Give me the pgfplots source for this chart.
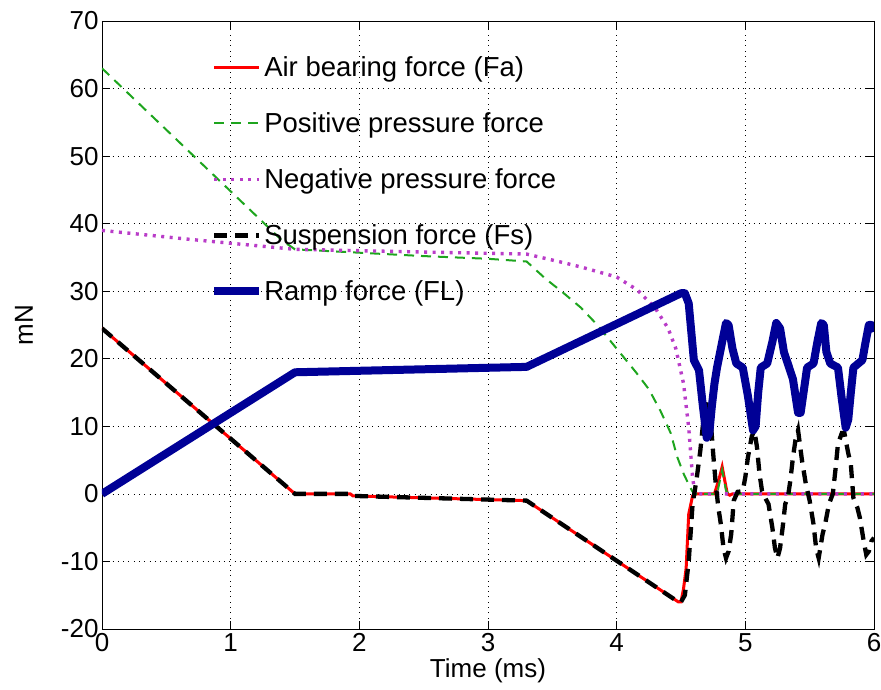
\documentclass[border=0pt]{standalone}
\usepackage{pgfplots}
\pgfplotsset{compat=1.18}
\usepackage{fontspec}
\setmainfont{Liberation Sans}
\definecolor{cgreen}{RGB}{30,165,30}
\definecolor{cmag}{RGB}{185,60,200}
\definecolor{cblue}{RGB}{0,0,150}
\begin{document}
\begin{tikzpicture}
\useasboundingbox (-102pt,-61pt) rectangle (779pt,629pt);
\begin{axis}[
  at={(0,0)}, anchor=south west,
  width=772pt, height=608pt, scale only axis,
  xmin=0, xmax=6, ymin=-20, ymax=70,
  xtick={0,1,2,3,4,5,6},
  ytick={-20,-10,0,10,20,30,40,50,60,70},
  grid=major,
  major grid style={black, line width=0.7pt, dash pattern=on 0.7pt off 4.6pt},
  axis line style={black, line width=0.9pt},
  tick align=inside, major tick length=8pt,
  tick style={black, line width=0.9pt},
  /pgf/number format/assume math mode=true,
  ticklabel style={font=\fontsize{26}{28}\selectfont},
  xticklabel style={yshift=-1pt},
  label style={font=\fontsize{26}{28}\selectfont},
  xlabel={Time (ms)}, ylabel={mN},
  xlabel style={at={(axis description cs:0.5,-0.068)}, anchor=center},
  ylabel style={at={(axis description cs:-0.101,0.5)}, anchor=center},
  legend style={at={(rel axis cs:0.14,0.943)}, anchor=north west, draw=none, fill=none,
    font=\fontsize{27.5}{29}\selectfont, row sep=32.5pt, inner sep=0pt,
    nodes={inner sep=1pt}},
  legend cell align=left,
  legend image code/.code={\draw[#1] plot coordinates {(0pt,0pt) (45pt,0pt)};},
]
\addplot[red, line width=3pt] coordinates {
(0,24.5) (1.5,0) (1.93,0) (1.95,-0.3) (3.3,-1) (4.48,-16) (4.5,-16) (4.52,-14) (4.54,-11) (4.56,-3) (4.59,-0.3) (4.62,0) (4.76,0) (4.8,2.5) (4.82,4) (4.84,2) (4.86,0) (4.88,-0.2) (4.9,0) (6,0)};
\addlegendentry{Air bearing force (Fa)}
\addplot[cgreen, line width=2pt, dash pattern=on 10pt off 7pt] coordinates {
(0,63) (1.4,37.5) (1.5,36.2) (2,35.7) (2.5,35.2) (3,34.8) (3.3,34.4) (3.45,31.8) (3.57,30) (3.72,27.6) (3.85,25) (4.0,21.5) (4.15,18) (4.25,15.5) (4.34,12.3) (4.42,9) (4.47,5.5) (4.52,3) (4.57,1) (4.6,0) (4.78,0) (4.82,3.5) (4.85,0.5) (4.87,0) (6,0)};
\addlegendentry{Positive pressure force}
\addplot[cmag, line width=3.4pt, dash pattern=on 3pt off 5.5pt] coordinates {
(0,39) (0.67,37.7) (1.5,36.2) (2.5,35.8) (3.3,35.5) (3.57,34.3) (3.72,33.6) (4.0,32.1) (4.16,30.2) (4.3,27.5) (4.4,24.5) (4.46,21.5) (4.52,16.3) (4.56,9.8) (4.59,2.4) (4.61,0) (6,0)};
\addlegendentry{Negative pressure force}
\addplot[black, line width=4.3pt, dash pattern=on 13pt off 8pt] coordinates {
(0,24.5) (1.5,0) (1.93,0) (1.95,-0.3) (3.3,-1) (4.48,-16) (4.5,-16) (4.53,-15) (4.56,-10) (4.59,-1.5) (4.62,2) (4.65,6.4) (4.68,12) (4.71,13.8) (4.73,11) (4.75,6) (4.77,1.5) (4.79,-2) (4.81,-4.5) (4.83,-8) (4.85,-9.5) (4.87,-8.5) (4.89,-6) (4.91,-1) (4.94,0.3) (4.98,0.4) (5.0,2.5) (5.02,5.4) (5.05,8.5) (5.07,9.4) (5.09,7) (5.11,3) (5.13,0.4) (5.16,-0.8) (5.18,-1.5) (5.21,-5) (5.23,-8) (5.25,-9.5) (5.27,-8) (5.29,-5) (5.31,-1.5) (5.33,-0.6) (5.35,2) (5.37,5.4) (5.39,8) (5.41,9.4) (5.44,5) (5.47,1.5) (5.5,-1) (5.53,-4.5) (5.55,-8) (5.57,-9.5) (5.6,-6) (5.62,-4.5) (5.65,-1.5) (5.68,0) (5.7,3.5) (5.72,7.4) (5.75,9) (5.77,9) (5.8,6) (5.82,4.4) (5.84,-0.6) (5.87,-2) (5.89,-3.5) (5.92,-7) (5.94,-9) (5.96,-8.5) (5.98,-7) (6,-6.5)};
\addlegendentry{Suspension force (Fs)}
\addplot[cblue, line width=8pt, line join=round] coordinates {
(0,0) (1.5,18) (3.3,18.8) (4.5,29.7) (4.53,29.7) (4.56,28.2) (4.58,24) (4.6,19.8) (4.64,18.3) (4.67,13) (4.7,8.3) (4.72,9) (4.74,13) (4.76,16.3) (4.78,18.7) (4.82,22.5) (4.85,25.3) (4.87,25) (4.9,21.5) (4.93,19.3) (4.98,18.7) (5.02,14.5) (5.06,9.4) (5.08,10) (5.1,15) (5.12,18.7) (5.17,19.3) (5.21,22.5) (5.24,25.3) (5.27,24.5) (5.3,21) (5.33,19.3) (5.37,17) (5.41,12) (5.43,12) (5.46,16) (5.48,18.7) (5.53,19.3) (5.56,22.5) (5.59,25.3) (5.61,25) (5.63,21) (5.66,19.3) (5.72,18.7) (5.75,14) (5.78,9.8) (5.8,11) (5.82,15) (5.84,18.7) (5.91,19.8) (5.93,22) (5.96,25) (5.98,25) (6,24)};
\addlegendentry{Ramp force (FL)}
\end{axis}
\end{tikzpicture}
\end{document}
